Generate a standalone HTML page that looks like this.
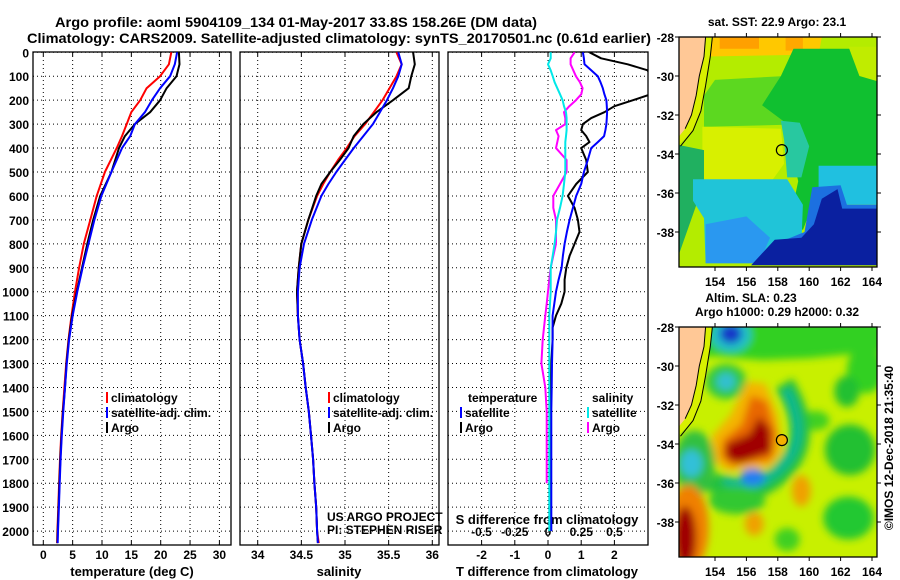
<!DOCTYPE html>
<html><head><meta charset="utf-8"><style>
html,body{margin:0;padding:0;background:#fff;}
svg{display:block;font-family:"Liberation Sans",Arial,sans-serif;}
text{font-weight:bold;}
</style></head><body>
<svg id="fig" width="900" height="580" viewBox="0 0 900 580" xmlns="http://www.w3.org/2000/svg">
<defs>
<filter id="blur" x="-20%" y="-20%" width="140%" height="140%"><feGaussianBlur stdDeviation="4"/></filter>
<clipPath id="clipTop"><rect x="679" y="37" width="198" height="230"/></clipPath>
<clipPath id="clipBot"><rect x="679" y="327" width="198" height="230"/></clipPath>
<clipPath id="clipP1"><rect x="33" y="52" width="198" height="493"/></clipPath>
<clipPath id="clipP2"><rect x="240" y="52" width="199" height="493"/></clipPath>
<clipPath id="clipP3"><rect x="448" y="52" width="200" height="493"/></clipPath>
</defs>
<text x="55" y="27" font-size="14" textLength="482" lengthAdjust="spacingAndGlyphs">Argo profile: aoml 5904109_134 01-May-2017 33.8S 158.26E (DM data)</text>
<text x="27" y="43" font-size="14" textLength="624" lengthAdjust="spacingAndGlyphs">Climatology: CARS2009. Satellite-adjusted climatology: synTS_20170501.nc (0.61d earlier)</text>
<g id="layer"></g>
</svg>
<script>
// ---------- DATA ----------
const depthsT = [0,50,100,150,200,250,300,350,400,500,600,700,800,900,1000,1100,1200,1300,1400,1500,1600,1700,1800,1900,2000,2050];
const tempClim = [21.8,21.4,19.9,17.6,16.5,15.0,14.2,13.4,12.5,10.5,9.1,8.0,6.9,6.1,5.4,4.8,4.3,3.9,3.6,3.3,3.05,2.85,2.7,2.55,2.4,2.35];
const tempSat  = [22.8,22.4,21.6,19.9,18.5,17.3,15.6,14.8,13.4,11.6,9.9,8.7,7.7,6.7,5.8,5.0,4.4,4.0,3.7,3.4,3.15,2.95,2.8,2.65,2.5,2.45];
const tempArgo = [23.1,23.2,22.7,21.0,19.9,18.2,15.6,13.9,12.9,11.6,9.7,8.5,7.5,6.6,5.7,4.9,4.35,3.95,3.7,3.35,3.1,2.9,2.75,2.6,2.45,2.4];
const depthsS = [0,50,100,150,200,250,300,350,400,450,500,550,600,700,800,900,1000,1100,1200,1300,1400,1500,1600,1700,1800,1900,2000,2050];
const salClim = [35.59,35.65,35.59,35.51,35.43,35.33,35.23,35.11,35.02,34.92,34.83,34.75,34.68,34.58,34.50,34.47,34.45,34.46,34.48,34.52,34.55,34.585,34.61,34.635,34.65,34.67,34.68,34.70];
const salSat  = [35.61,35.65,35.61,35.55,35.48,35.40,35.32,35.21,35.10,35.00,34.90,34.81,34.73,34.62,34.53,34.48,34.46,34.46,34.48,34.52,34.55,34.585,34.61,34.635,34.65,34.67,34.68,34.69];
const salArgo = [35.78,35.80,35.76,35.73,35.55,35.36,35.21,35.10,35.04,34.94,34.83,34.73,34.67,34.58,34.50,34.47,34.45,34.46,34.48,34.52,34.55,34.585,34.61,34.635,34.65,34.67,34.68,34.69];
const depthsD = [0,25,50,75,100,125,150,175,200,225,250,275,300,325,350,375,400,450,500,550,600,650,700,750,800,850,900,950,1000,1050,1100,1150,1200,1300,1400,1500,1600,1700,1800,1900,2000];
const tDiffSat  = [1.05,1.08,1.1,1.3,1.5,1.58,1.65,1.7,1.76,1.77,1.78,1.77,1.76,1.73,1.69,1.5,1.3,1.2,1.08,1.0,0.85,0.75,0.65,0.57,0.5,0.45,0.41,0.32,0.24,0.19,0.14,0.14,0.14,0.12,0.11,0.1,0.1,0.1,0.1,0.1,0.1];
const tDiffArgo = [1.25,1.6,2.4,3.0,3.1,3.1,3.1,3.1,2.56,2.0,1.7,1.3,1.05,1.0,1.15,1.25,1.0,1.15,1.2,0.85,0.6,0.8,0.9,0.95,0.8,0.65,0.55,0.5,0.5,0.4,0.24,0.14,0.14,0.1,0.08,0.08,0.08,0.08,0.08,0.07,0.07];
const sDiffSat  = [0.02,0.02,0.0,0.02,0.035,0.05,0.07,0.09,0.11,0.12,0.135,0.14,0.14,0.14,0.135,0.13,0.13,0.13,0.13,0.12,0.11,0.09,0.068,0.06,0.05,0.035,0.02,0.02,0.02,0.015,0.01,0.01,0.01,0.01,0.01,0.01,0.01,0.01,0.01,0.01,0.01];
const sDiffArgo = [0.2,0.17,0.17,0.19,0.21,0.24,0.26,0.25,0.21,0.16,0.12,0.13,0.13,0.06,0.08,0.07,0.06,0.14,0.14,0.09,0.04,0.04,0.06,0.06,0.06,0.04,0.02,0.01,0.0,-0.01,-0.02,-0.03,-0.04,-0.05,-0.02,-0.01,-0.01,-0.01,-0.01,null,null];
const depthTicks = [0,100,200,300,400,500,600,700,800,900,1000,1100,1200,1300,1400,1500,1600,1700,1800,1900,2000];
const tempTicks = [0,5,10,15,20,25,30];
const salTicks = [34,34.5,35,35.5,36];
const salTickLabels = ["34","34.5","35","35.5","36"];
const tdTicks = [-2,-1,0,1,2];
const sdTicks = [-0.5,-0.25,0,0.25,0.5];
const sdTickLabels = ["-0.5","-0.25","0","0.25","0.5"];
const lonTicks = [154,156,158,160,162,164];
const latTicks = [-28,-30,-32,-34,-36,-38];
const floatLon = 158.26, floatLat = -33.8;

// ---------- SCALES ----------
const NS = "http://www.w3.org/2000/svg";
const layer = document.getElementById('layer');
const yD = d => 52.3 + d * 0.2394;
const xT = t => 43.3 + t * 5.87;
const xS = s => 257.7 + (s - 34) * 87.3;
const xTD = v => 548 + v * 33.2;
const xSD = v => 548 + v * 133;
const xLon = lon => 715 + (lon - 154) * 15.7;
const yLatTop = lat => 37 + (-28 - lat) * 19.5;
const yLatBot = lat => 327 + (-28 - lat) * 19.5;

function el(tag, attrs, parent) {
  const e = document.createElementNS(NS, tag);
  for (const k in attrs) e.setAttribute(k, attrs[k]);
  (parent || layer).appendChild(e);
  return e;
}
function txt(s, x, y, size, anchor, parent) {
  const t = el('text', {x: x, y: y, 'font-size': size, 'text-anchor': anchor || 'start'}, parent);
  t.textContent = s;
  return t;
}

// ---------- PANELS ----------
const panels = [
  {x0: 33, x1: 231, name: 'temperature-panel', clip: 'clipP1', grid: tempTicks.map(xT)},
  {x0: 240, x1: 439, name: 'salinity-panel', clip: 'clipP2', grid: salTicks.map(xS)},
  {x0: 448, x1: 648, name: 'difference-panel', clip: 'clipP3', grid: tdTicks.map(xTD)}
];
panels.forEach(p => {
  const g = el('g', {});
  
  
  depthTicks.forEach(d => {
    const l = el('line', {x1: p.x0, x2: p.x1, y1: yD(d), y2: yD(d), stroke: '#000', 'stroke-width': 1, 'stroke-dasharray': '1,3'}, g);
    
    
  });
  p.grid.forEach(x => {
    const l = el('line', {x1: x, x2: x, y1: 52, y2: 545, stroke: '#000', 'stroke-width': 1, 'stroke-dasharray': '1,3'}, g);
    
    
    el('line', {x1: x, x2: x, y1: 545, y2: 541, stroke: '#000'}, g);
    el('line', {x1: x, x2: x, y1: 52, y2: 56, stroke: '#000'}, g);
  });
  const r = el('rect', {x: p.x0, y: 52, width: p.x1 - p.x0, height: 493, fill: 'none', stroke: '#000', 'stroke-width': 1.3}, g);
  
  
});

depthTicks.forEach(d => {
  const t = txt(String(d), 29, yD(d) + 5, 12, 'end');
  
  
});
tempTicks.forEach(v => {
  const t = txt(String(v), xT(v), 559, 12, 'middle');
  
  
});
salTicks.forEach((v, i) => {
  const t = txt(salTickLabels[i], xS(v), 559, 12, 'middle');
  
  
});
tdTicks.forEach(v => {
  const t = txt(String(v), xTD(v), 559, 12, 'middle');
  
  
});
sdTicks.forEach((v, i) => {
  const t = txt(sdTickLabels[i], xSD(v), 536, 12, 'middle');
  
  
});
let a;
a = txt('temperature (deg C)', 132, 576, 13, 'middle');


a = txt('salinity', 339, 576, 13, 'middle');


a = txt('T difference from climatology', 547, 576, 13, 'middle');


a = txt('S difference from climatology', 547, 524, 13, 'middle');


a = txt('US ARGO PROJECT', 327, 521, 12, 'start');
a.setAttribute('font-weight', 'normal');


a = txt('PI: STEPHEN RISER', 327, 534, 12, 'start');
a.setAttribute('font-weight', 'normal');



// ---------- PROFILES ----------
function profile(depths, vals, xf, color, name, clip, w) {
  let d = '';
  let started = false;
  depths.forEach((dep, i) => {
    if (vals[i] === null) return;
    d += (started ? 'L' : 'M') + xf(vals[i]).toFixed(1) + ',' + yD(dep).toFixed(1);
    started = true;
  });
  const p = el('path', {d: d, fill: 'none', stroke: color, 'stroke-width': w || 2, 'clip-path': 'url(#' + clip + ')', 'stroke-linejoin': 'round'});
  
  
}
profile(depthsT, tempClim, xT, '#ff0000', 'temperature-climatology-line', 'clipP1');
profile(depthsT, tempArgo, xT, '#000000', 'temperature-argo-line', 'clipP1');
profile(depthsT, tempSat, xT, '#0000ff', 'temperature-satellite-line', 'clipP1');
profile(depthsS, salClim, xS, '#ff0000', 'salinity-climatology-line', 'clipP2');
profile(depthsS, salArgo, xS, '#000000', 'salinity-argo-line', 'clipP2');
profile(depthsS, salSat, xS, '#0000ff', 'salinity-satellite-line', 'clipP2');
profile(depthsD, tDiffArgo, xTD, '#000000', 't-diff-argo-line', 'clipP3');
profile(depthsD, sDiffArgo, xSD, '#ff00ff', 's-diff-argo-line', 'clipP3');
profile(depthsD, tDiffSat, xTD, '#0000ff', 't-diff-satellite-line', 'clipP3');
profile(depthsD, sDiffSat, xSD, '#00e8e8', 's-diff-satellite-line', 'clipP3');

// ---------- LEGENDS ----------
function legend(x, y, color, label) {
  const g = el('g', {});
  
  
  el('line', {x1: x, x2: x, y1: y - 10, y2: y + 1, stroke: color, 'stroke-width': 2}, g);
  txt(label, x + 4, y, 12, 'start', g);
}
legend(107, 402, '#ff0000', 'climatology');
legend(107, 417, '#0000ff', 'satellite-adj. clim.');
legend(107, 432, '#000000', 'Argo');
legend(329, 402, '#ff0000', 'climatology');
legend(329, 417, '#0000ff', 'satellite-adj. clim.');
legend(329, 432, '#000000', 'Argo');
a = txt('temperature', 468, 402, 12, 'start');


a = txt('salinity', 592, 402, 12, 'start');


legend(461, 417, '#0000ff', 'satellite');
legend(461, 432, '#000000', 'Argo');
legend(588, 417, '#00e8e8', 'satellite');
legend(588, 432, '#ff00ff', 'Argo');

// ---------- MAPS ----------
function poly(pts, yf, fill, parent) {
  return el('polygon', {points: pts.map(p => xLon(p[0]).toFixed(1) + ',' + yf(p[1]).toFixed(1)).join(' '), fill: fill}, parent);
}
function ell(cx, cy, rx, ry, yf, fill, parent) {
  return el('ellipse', {cx: xLon(cx), cy: yf(cy), rx: rx * 15.7, ry: ry * 19.5, fill: fill}, parent);
}
const land = [[151.5,-27.5],[153.45,-27.5],[153.3,-29],[153.0,-30],[152.8,-31],[152.5,-32],[152.1,-32.7],[151.5,-33.3]];
const coast2 = [[153.9,-27.5],[153.7,-29],[153.4,-30.5],[153.1,-31.8],[152.6,-32.8],[151.8,-33.6]];
function landAndCoast(yf, g) {
  poly([[153.45,-27.5],[153.9,-27.5],[153.7,-29],[153.4,-30.5],[153.1,-31.8],[152.6,-32.8],[151.6,-33.6],[151.5,-33.3],[152.1,-32.7],[152.5,-32],[152.8,-31],[153.0,-30],[153.3,-29]], yf, '#d8f000', g);
  poly(land, yf, '#ffc896', g);
  el('polyline', {points: land.slice(0, -1).map(p => xLon(p[0]) + ',' + yf(p[1])).join(' '), fill: 'none', stroke: '#000', 'stroke-width': 1}, g);
  el('polyline', {points: coast2.map(p => xLon(p[0]) + ',' + yf(p[1])).join(' '), fill: 'none', stroke: '#000', 'stroke-width': 1}, g);
}
function mapAxes(yf, g, y0) {
  el('rect', {x: 679, y: y0, width: 198, height: 230, fill: 'none', stroke: '#000', 'stroke-width': 1.3}, g);
  lonTicks.forEach(l => {
    el('line', {x1: xLon(l), x2: xLon(l), y1: y0, y2: y0 - 4, stroke: '#000'}, g);
    el('line', {x1: xLon(l), x2: xLon(l), y1: y0 + 230, y2: y0 + 234, stroke: '#000'}, g);
    const t = txt(String(l), xLon(l), y0 + 249, 12, 'middle', g);
    
    
  });
  latTicks.forEach(l => {
    el('line', {x1: 679, x2: 675, y1: yf(l), y2: yf(l), stroke: '#000'}, g);
    el('line', {x1: 877, x2: 881, y1: yf(l), y2: yf(l), stroke: '#000'}, g);
    const t = txt(String(l), 674, yf(l) + 5, 12, 'end', g);
    
    
  });
  const c = el('circle', {cx: xLon(floatLon), cy: yf(floatLat), r: 5.5, fill: 'none', stroke: '#000', 'stroke-width': 1.2}, g);
  
  
}

// top SST map
const gt = el('g', {'clip-path': 'url(#clipTop)'});


el('rect', {x: 679, y: 37, width: 198, height: 230, fill: '#b4ec00'}, gt);
poly([[153.5,-28],[160.8,-28],[160.6,-28.9],[153.5,-29.0]], yLatTop, '#ffc800', gt);
poly([[154.3,-28],[156.8,-28],[156.8,-28.6],[154.3,-28.6]], yLatTop, '#ffa000', gt);
poly([[158.5,-28],[159.6,-28],[159.6,-28.7],[158.5,-28.7]], yLatTop, '#ffa800', gt);
poly([[154,-30.2],[158.5,-30.0],[158.5,-32.5],[153.3,-32.6],[153.3,-31]], yLatTop, '#5cd820', gt);
poly([[159,-28.6],[163.5,-28.6],[164.5,-29.5],[164.5,-34.6],[161.2,-34.7],[160.4,-36.2],[159.6,-37.9],[158.8,-37.3],[159.3,-35.4],[158.5,-32.4],[157,-31.5],[158.2,-30.0]], yLatTop, '#10c030', gt);
poly([[162.5,-28.5],[164.5,-28.5],[164.5,-30.3],[163.2,-30]], yLatTop, '#c0ec00', gt);
poly([[153.2,-32.6],[158.2,-32.7],[158.4,-34.5],[157.6,-35.4],[153.2,-35.4]], yLatTop, '#d8f000', gt);
poly([[158.2,-32.3],[159.4,-32.4],[160,-33.6],[159.5,-35.2],[158.6,-35.2],[158.4,-33.3]], yLatTop, '#28c8a0', gt);
poly([[151.5,-33.5],[153.3,-33.8],[153.3,-35.5],[151.5,-39.6]], yLatTop, '#20b060', gt);
poly([[152.6,-35.3],[158.6,-35.3],[159.6,-36.6],[159.5,-38.6],[157.5,-39.6],[153.4,-39.6],[153.3,-37.3],[152.6,-36.4]], yLatTop, '#20c4d8', gt);
poly([[153.4,-37.6],[156,-37.2],[157.5,-38.3],[156.8,-39.6],[153.4,-39.6]], yLatTop, '#2a98f0', gt);
poly([[160.6,-34.6],[164.5,-34.6],[164.5,-36.6],[160.6,-36.6]], yLatTop, '#20c0e0', gt);
poly([[160.2,-35.7],[162,-35.6],[162.4,-36.6],[164.5,-36.6],[164.5,-39.6],[159,-39.6],[158.5,-38.4],[159.7,-38.0]], yLatTop, '#1c70e0', gt);
poly([[156.3,-39.7],[157.8,-38.4],[159.5,-38.3],[160.3,-37.6],[160.8,-36.3],[161.8,-35.8],[162.1,-36.8],[164.5,-36.8],[164.5,-39.7]], yLatTop, '#0a20a0', gt);
landAndCoast(yLatTop, gt);
const gtAx = el('g', {});


mapAxes(yLatTop, gtAx, 37);
a = txt('sat. SST: 22.9 Argo: 23.1', 777, 26, 12, 'middle');



// bottom SLA map
const gb = el('g', {'clip-path': 'url(#clipBot)'});


el('rect', {x: 679, y: 327, width: 198, height: 230, fill: '#c8f000'}, gb);
const gbb = el('g', {filter: 'url(#blur)'}, gb);
const Y = yLatBot;
// northern green band
poly([[151,-27.5],[165,-27.5],[165,-29.2],[160,-29.6],[157,-29.7],[154,-29.5],[151,-29.5]], Y, '#30d020', gbb);
ell(155.0, -28.4, 1.3, 0.9, Y, '#20c0c8', gbb);
ell(155.0, -28.35, 0.7, 0.5, Y, '#1838c8', gbb);
ell(154.7, -30.8, 1.3, 0.9, Y, '#30c840', gbb);
ell(154.7, -30.8, 0.6, 0.45, Y, '#30c0d0', gbb);
// east green blobs
ell(163.6, -30.2, 1.2, 1.2, Y, '#30d020', gbb);
ell(162.4, -31.3, 0.8, 0.8, Y, '#20c030', gbb);
ell(162.6, -34.3, 1.6, 1.3, Y, '#20c030', gbb);
ell(162.5, -37.8, 1.6, 1.1, Y, '#20c830', gbb);
ell(160.4, -32.8, 0.9, 0.5, Y, '#40d020', gbb);
// orange / red eddy
poly([[153.8,-33.6],[155,-32.5],[156,-30.8],[157.2,-30.9],[158.0,-32.5],[158.3,-34.4],[157.5,-35.2],[154.8,-35.4],[153.8,-34.8]], Y, '#f4b400', gbb);
poly([[154.5,-33.8],[155.7,-33.0],[156.3,-31.5],[157.3,-31.8],[157.9,-33.5],[157.6,-34.8],[155,-35.1],[154.4,-34.6]], Y, '#e86800', gbb);
poly([[154.7,-34.0],[156.2,-33.5],[156.8,-32.6],[157.5,-33.2],[157.6,-34.4],[155.5,-35.0],[154.7,-34.7]], Y, '#a00000', gbb);
// green/teal arc
el('path', {d: 'M' + xLon(158.4) + ',' + Y(-30.9) + ' Q' + xLon(160.4) + ',' + Y(-33.6) + ' ' + xLon(158.4) + ',' + Y(-35.3) + ' T' + xLon(153.8) + ',' + Y(-35.9), fill: 'none', stroke: '#20c040', 'stroke-width': 20}, gbb);
el('path', {d: 'M' + xLon(158.5) + ',' + Y(-31.2) + ' Q' + xLon(160.1) + ',' + Y(-33.6) + ' ' + xLon(158.3) + ',' + Y(-35.1) + ' T' + xLon(154.6) + ',' + Y(-35.8), fill: 'none', stroke: '#10b890', 'stroke-width': 10}, gbb);
ell(156.4, -35.7, 0.8, 0.45, Y, '#2080f0', gbb);
// west
ell(152.7, -35.0, 1.3, 1.7, Y, '#30c040', gbb);
ell(152.5, -35.0, 0.7, 0.7, Y, '#30c0d8', gbb);
ell(152.3, -38.3, 1.3, 2.2, Y, '#f08000', gbb);
ell(152.1, -38.8, 0.7, 1.6, Y, '#a00000', gbb);
// south-middle
ell(155.4, -36.9, 1.8, 0.7, Y, '#30c830', gbb);
ell(159.5, -36.4, 0.6, 0.8, Y, '#f0a000', gbb);
ell(156.5, -38.1, 0.6, 0.6, Y, '#f0a000', gbb);
ell(158.6, -38.9, 0.8, 0.6, Y, '#40d020', gbb);
landAndCoast(Y, gb);
el('circle', {cx: xLon(floatLon), cy: Y(floatLat), r: 5.5, fill: '#f4b000'}, gb);
const gbAx = el('g', {});


mapAxes(Y, gbAx, 327);
a = txt('Altim. SLA: 0.23', 751, 302, 12, 'middle');


a = txt('Argo h1000: 0.29 h2000: 0.32', 777, 316, 12, 'middle');


a = txt('©IMOS 12-Dec-2018 21:35:40', 0, 0, 12, 'middle');
a.setAttribute('font-weight', 'normal');
a.setAttribute('transform', 'translate(893,448) rotate(-90)');


</script>
</body></html>
